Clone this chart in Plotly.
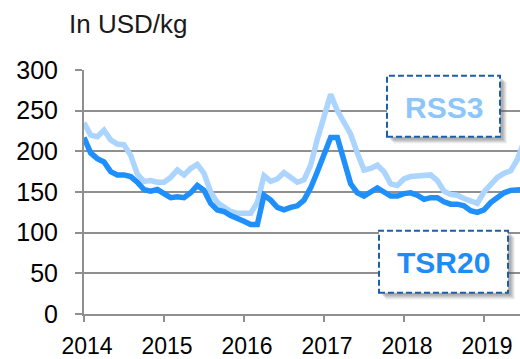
import plotly.graph_objects as go

# Monthly natural rubber prices from Jan 2014 (USD/kg)
start_year = 2014
tsr20 = [217, 198, 191, 187, 175, 171, 171, 169, 162, 153, 151, 153,
         148, 143, 144, 143, 149, 158, 152, 136, 128, 126, 121, 118,
         114, 110, 110, 146, 140, 131, 128, 131, 133, 140, 155, 175,
         198, 217, 217, 190, 160, 149, 145, 150, 155, 150, 145, 145,
         148, 149, 146, 141, 143, 143, 138, 135, 135, 133, 127, 125,
         128, 137, 143, 149, 152, 153, 153]
rss3 = [235, 220, 218, 226, 214, 209, 208, 195, 172, 163, 164, 162,
        162, 168, 177, 171, 179, 184, 173, 150, 137, 132, 126, 124,
        124, 124, 137, 170, 163, 166, 174, 168, 162, 165, 183, 215,
        245, 270, 250, 235, 221, 198, 177, 179, 183, 175, 160, 158,
        166, 169, 170, 171, 171, 164, 151, 147, 146, 142, 139, 136,
        150, 158, 168, 173, 176, 190, 212]
x_ticks = [2014, 2015, 2016, 2017, 2018, 2019]
y_ticks = [0, 50, 100, 150, 200, 250, 300]

months = [start_year + i / 12 for i in range(len(tsr20))]

RSS_LINE = "#abd5fe"
RSS_TEXT = "#8dc6fb"
TSR_LINE = "#1f8ffc"
TSR_TEXT = "#1d8cf6"
BOX_EDGE = "#1c5ea8"
GRID = "#8f8f8f"

fig = go.Figure()
fig.add_trace(go.Scatter(x=months, y=rss3, mode="lines", name="RSS3",
                         line=dict(color=RSS_LINE, width=5.5)))
fig.add_trace(go.Scatter(x=months, y=tsr20, mode="lines", name="TSR20",
                         line=dict(color=TSR_LINE, width=5.5)))

W, H = 520, 359
L, R, T, B = 84, 0, 70, 37
pw, ph = W - L - R, H - T - B


def px(xp):
    return (xp - L) / pw


def py(yp):
    return (H - B - yp) / ph


def label_box(x0, y0, x1, y1, text, color):
    # soft drop shadow
    for k, op in [(7, 0.08), (6, 0.10), (5, 0.12), (4, 0.14), (3, 0.16)]:
        fig.add_shape(type="rect", xref="paper", yref="paper",
                      x0=px(x0 + k), x1=px(x1 + k), y0=py(y1 + k), y1=py(y0 + k),
                      line=dict(width=0), fillcolor=f"rgba(90,90,90,{op})",
                      layer="above")
    fig.add_shape(type="rect", xref="paper", yref="paper",
                  x0=px(x0), x1=px(x1), y0=py(y1), y1=py(y0),
                  line=dict(color=BOX_EDGE, width=2, dash="6px,3px"),
                  fillcolor="white", layer="above")
    fig.add_annotation(xref="paper", yref="paper",
                       x=px((x0 + x1) / 2), y=py((y0 + y1) / 2 + 1),
                       text=f"<b>{text}</b>", showarrow=False,
                       font=dict(family="Liberation Sans, Arial", size=30, color=color),
                       xanchor="center", yanchor="middle")


label_box(387, 76, 500, 139, "RSS3", RSS_TEXT)
label_box(379, 236, 508, 300, "TSR20", TSR_TEXT)

fig.add_annotation(xref="paper", yref="paper", x=px(67), y=py(22),
                   text="In USD/kg", showarrow=False, xanchor="left", yanchor="middle",
                   font=dict(family="Liberation Sans, Arial", size=26, color="#1a1a1a"))

fig.update_layout(
    width=W, height=H,
    margin=dict(l=L, r=R, t=T, b=B),
    paper_bgcolor="white", plot_bgcolor="white",
    showlegend=False,
    font=dict(family="Liberation Sans, Arial", size=24, color="black"),
)
fig.update_xaxes(range=[2014, 2014 + pw / 80], tickvals=x_ticks,
                 ticktext=[str(v) for v in x_ticks],
                 showgrid=False, zeroline=False,
                 showline=True, linecolor=GRID, linewidth=2,
                 ticks="outside", ticklen=6, tickwidth=2, tickcolor=GRID,
                 tickfont=dict(size=23), ticklabelstandoff=4, ticklabelshift=3)
fig.update_yaxes(range=[0, 300], tickvals=y_ticks,
                 showgrid=True, gridcolor=GRID, gridwidth=2, zeroline=False,
                 showline=True, linecolor=GRID, linewidth=2,
                 ticks="outside", ticklen=7, tickwidth=2, tickcolor=GRID,
                 tickfont=dict(size=25), ticklabelstandoff=12)

fig.write_html("out.html")
